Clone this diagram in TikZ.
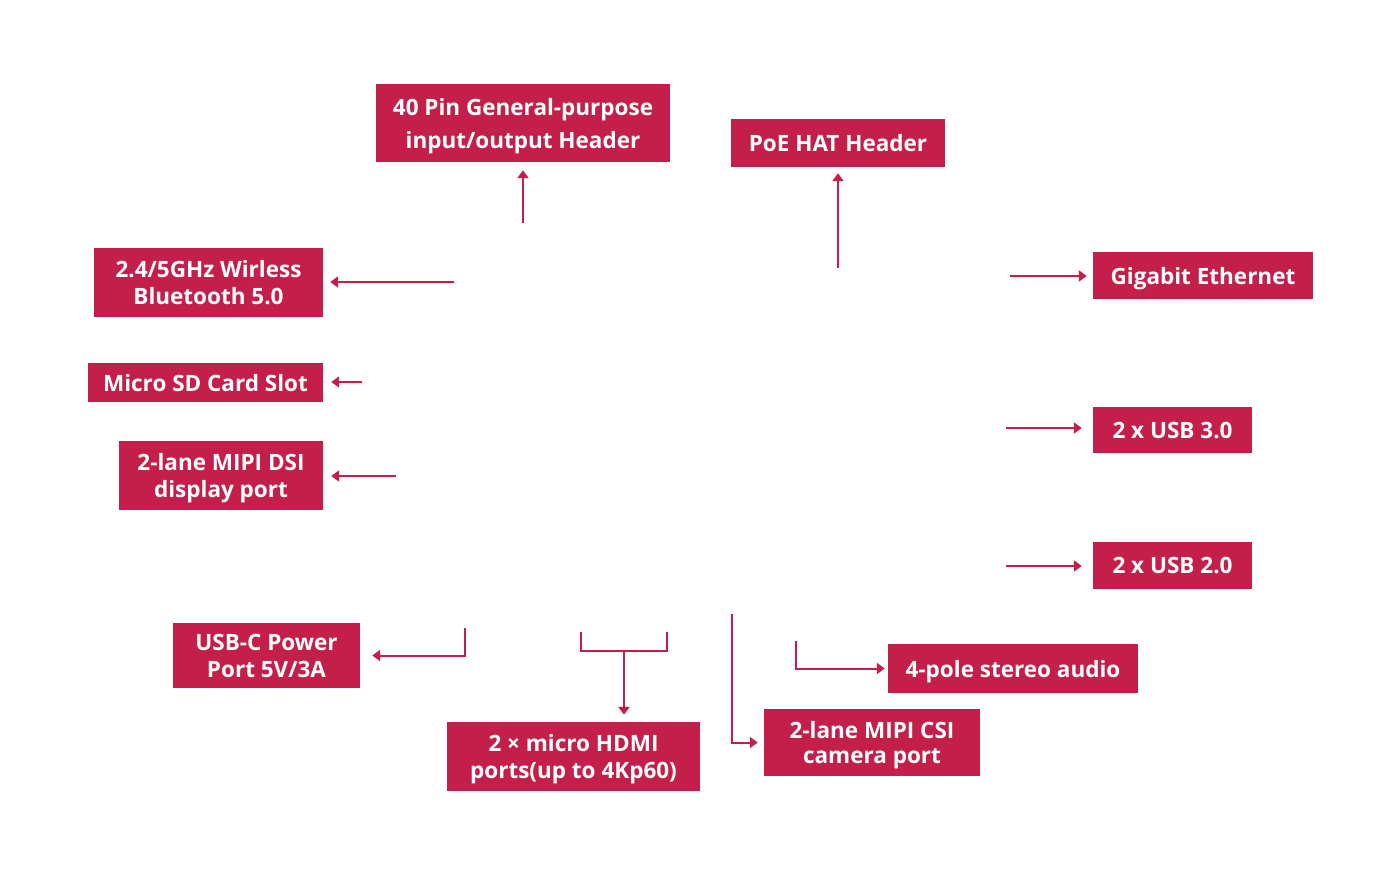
\documentclass[tikz,border=0pt]{standalone}
\usepackage{fontspec}
\setmainfont{Open Sans}
\usetikzlibrary{arrows.meta,calc}
\definecolor{crim}{RGB}{196,30,74}
\begin{document}
\begin{tikzpicture}[x=1pt,y=-1pt,
  box/.style={fill=crim,text=white,inner sep=0pt,align=center,text depth=0pt,font=\bfseries\fontsize{22.5}{27}\selectfont},
  conn/.style={draw=crim,line width=2pt,-{Triangle[length=8pt,width=11pt]}}]
\useasboundingbox (0,0) rectangle (1400,874);
\node[box,minimum width=294pt,minimum height=78pt,font=\bfseries\fontsize{22.5}{33}\selectfont] (gpio) at (523,123) {40 Pin General-purpose\\input/output Header};
\node[box,minimum width=214pt,minimum height=48pt] (poe) at (838,143) {PoE HAT Header};
\node[box,minimum width=220pt,minimum height=47pt] (eth) at (1203,275.5) {Gigabit Ethernet};
\node[box,minimum width=159pt,minimum height=46pt] (usb3) at (1172.5,430) {2 x USB 3.0};
\node[box,minimum width=159pt,minimum height=47pt] (usb2) at (1172.5,565.5) {2 x USB 2.0};
\node[box,minimum width=250pt,minimum height=49pt] (audio) at (1013,668.5) {4-pole stereo audio};
\node[box,minimum width=216pt,minimum height=67pt,font=\bfseries\fontsize{22.5}{25.5}\selectfont] (csi) at (872,742.5) {2-lane MIPI CSI\\camera port};
\node[box,minimum width=253pt,minimum height=69pt] (hdmi) at (573.5,756.5) {2 × micro HDMI\\ports(up to 4Kp60)};
\node[box,minimum width=187pt,minimum height=65pt] (usbc) at (266.5,655.5) {USB-C Power\\Port 5V/3A};
\node[box,minimum width=204pt,minimum height=69pt] (dsi) at (221,475.5) {2-lane MIPI DSI\\display port};
\node[box,minimum width=235pt,minimum height=39pt] (sd) at (205.5,382.5) {Micro SD Card Slot};
\node[box,minimum width=229pt,minimum height=69pt] (wifi) at (208.5,282.5) {2.4/5GHz Wirless\\Bluetooth 5.0};

\coordinate (gpioS) at (523,223);
\coordinate (poeS) at (838,268);
\coordinate (wifiS) at (454,282);
\coordinate (sdS) at (362,382);
\coordinate (dsiS) at (396,476);
\coordinate (usbcS) at (465,628);
\coordinate (hdA) at (581,632);
\coordinate (hdB) at (667,632);
\coordinate (hdM) at (624,651);
\coordinate (csiS) at (732,614);
\coordinate (audS) at (796,641);
\coordinate (ethS) at (1010,276);
\coordinate (usb3S) at (1006,428);
\coordinate (usb2S) at (1006,566);

\draw[conn,shorten >=8pt] (gpioS) -- (gpio.south);
\draw[conn,shorten >=6pt] (poeS) -- (poe.south);
\draw[conn,shorten >=7pt] (wifiS) -- (wifiS -| wifi.east);
\draw[conn,shorten >=8pt] (sdS) -- (sdS -| sd.east);
\draw[conn,shorten >=8pt] (dsiS) -- (dsiS -| dsi.east);
\draw[conn,shorten >=12pt] (usbcS) |- (usbc.east);
\draw[draw=crim,line width=2pt] (hdA) |- (hdB |- hdM) -- (hdB);
\draw[conn,shorten >=7pt] (hdM) -- (hdM |- hdmi.north);
\draw[conn,shorten >=6pt] (csiS) |- (csi.west);
\draw[conn,shorten >=3pt] (audS) |- (audio.west);
\draw[conn,shorten >=6pt] (ethS) -- (ethS -| eth.west);
\draw[conn,shorten >=11pt] (usb3S) -- (usb3S -| usb3.west);
\draw[conn,shorten >=11pt] (usb2S) -- (usb2S -| usb2.west);
\end{tikzpicture}
\end{document}
